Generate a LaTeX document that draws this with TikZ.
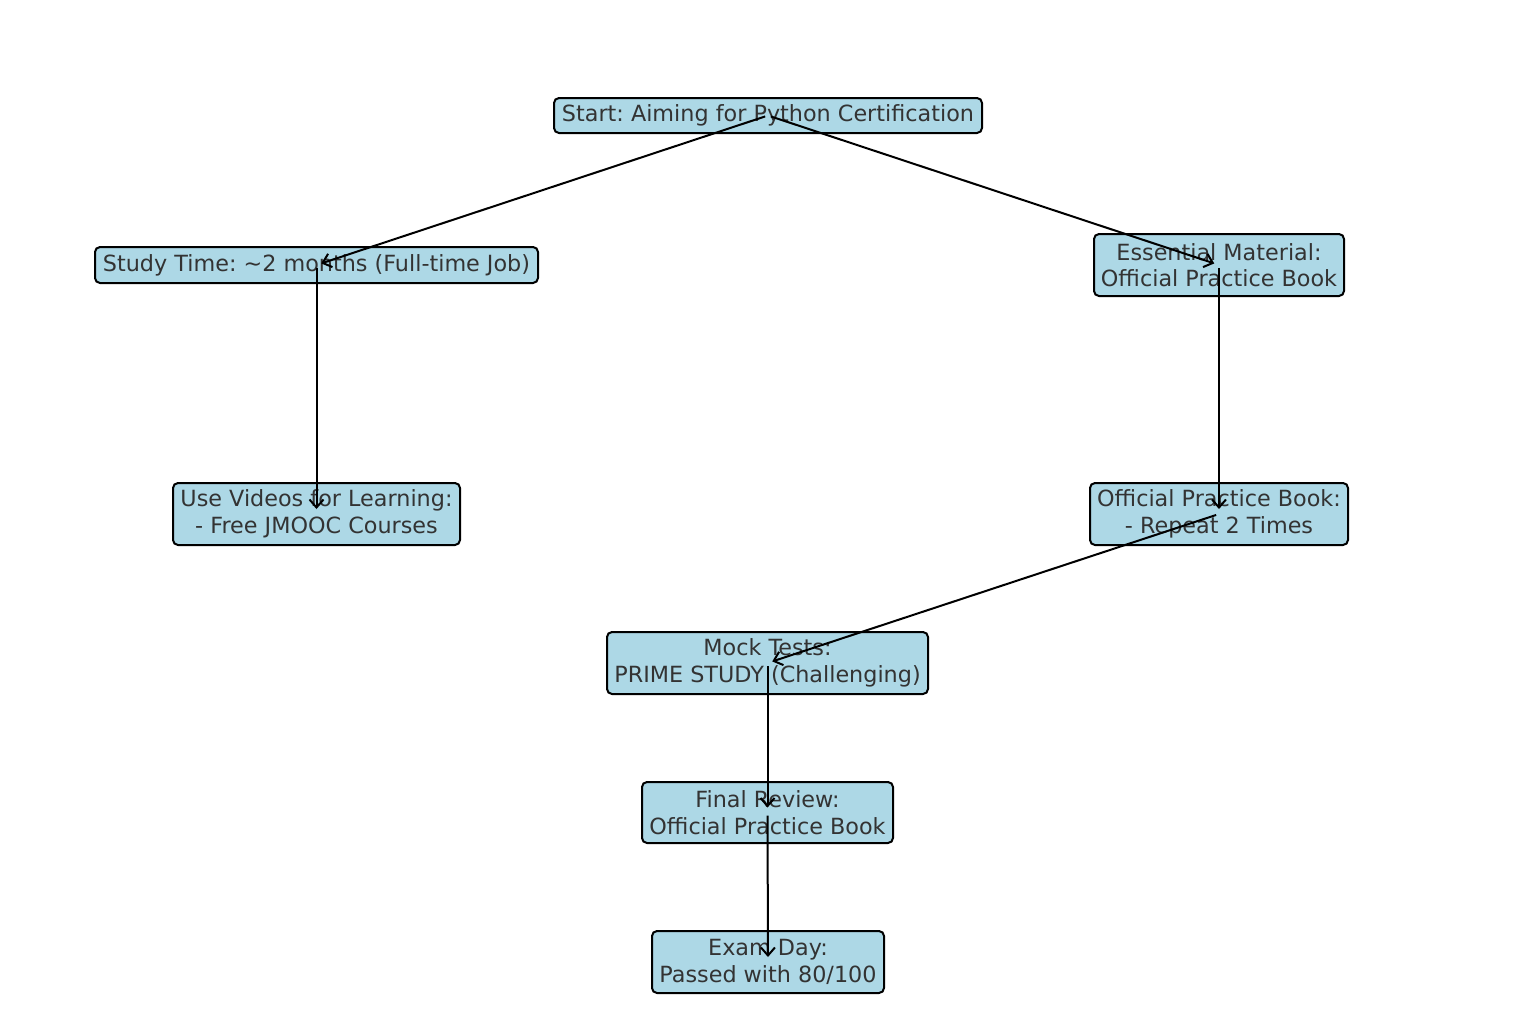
\documentclass[tikz,border=0pt]{standalone}
\usepackage{fontspec}
\setmainfont{DejaVu Sans}
\usetikzlibrary{arrows.meta}
\definecolor{boxfill}{HTML}{ADD8E6}
\definecolor{txt}{HTML}{333333}
\frenchspacing
\tikzset{
  stepbox/.style={draw=black, line width=2pt, fill=boxfill, rounded corners=5pt,
    inner sep=0pt, align=center, text=txt,
    font=\fontsize{22.3pt}{26.5pt}\selectfont},
  conn/.style={draw=black, line width=2pt, shorten <=3pt, shorten >=5pt,
    -{Straight Barb[length=8pt,width=14pt,line width=2pt]}}
}
\begin{document}
\begin{tikzpicture}[x=1pt,y=-1pt]
\useasboundingbox (0,0) rectangle (1536,1028);
\node[stepbox, minimum width=428pt, minimum height=35pt] (start) at (768,115.5) {Start: Aiming for Python Certification};
\node[stepbox, minimum width=443pt, minimum height=36pt] (study) at (316.5,265) {Study Time: \textasciitilde2 months (Full-time Job)};
\node[stepbox, minimum width=250pt, minimum height=62pt] (ess) at (1219,265) {Essential Material:\\Official Practice Book};
\node[stepbox, minimum width=287pt, minimum height=62pt] (vid) at (316.5,514) {Use Videos for Learning:\\- Free JMOOC Courses};
\node[stepbox, minimum width=258pt, minimum height=62pt] (opb) at (1219,514) {Official Practice Book:\\- Repeat 2 Times};
\node[stepbox, minimum width=321pt, minimum height=62pt] (mock) at (767.5,663) {Mock Tests:\\PRIME STUDY (Challenging)};
\node[stepbox, minimum width=251pt, minimum height=61pt] (final) at (767.5,812.5) {Final Review:\\Official Practice Book};
\node[stepbox, minimum width=232pt, minimum height=62pt] (exam) at (768,962) {Exam Day:\\Passed with 80/100};
\draw[conn] (start.center) -- (study.center);
\draw[conn] (start.center) -- (ess.center);
\draw[conn] (study.center) -- (vid.center);
\draw[conn] (ess.center) -- (opb.center);
\draw[conn] (opb.center) -- (mock.center);
\draw[conn] (mock.center) -- (final.center);
\draw[conn] (final.center) -- (exam.center);
\end{tikzpicture}
\end{document}
